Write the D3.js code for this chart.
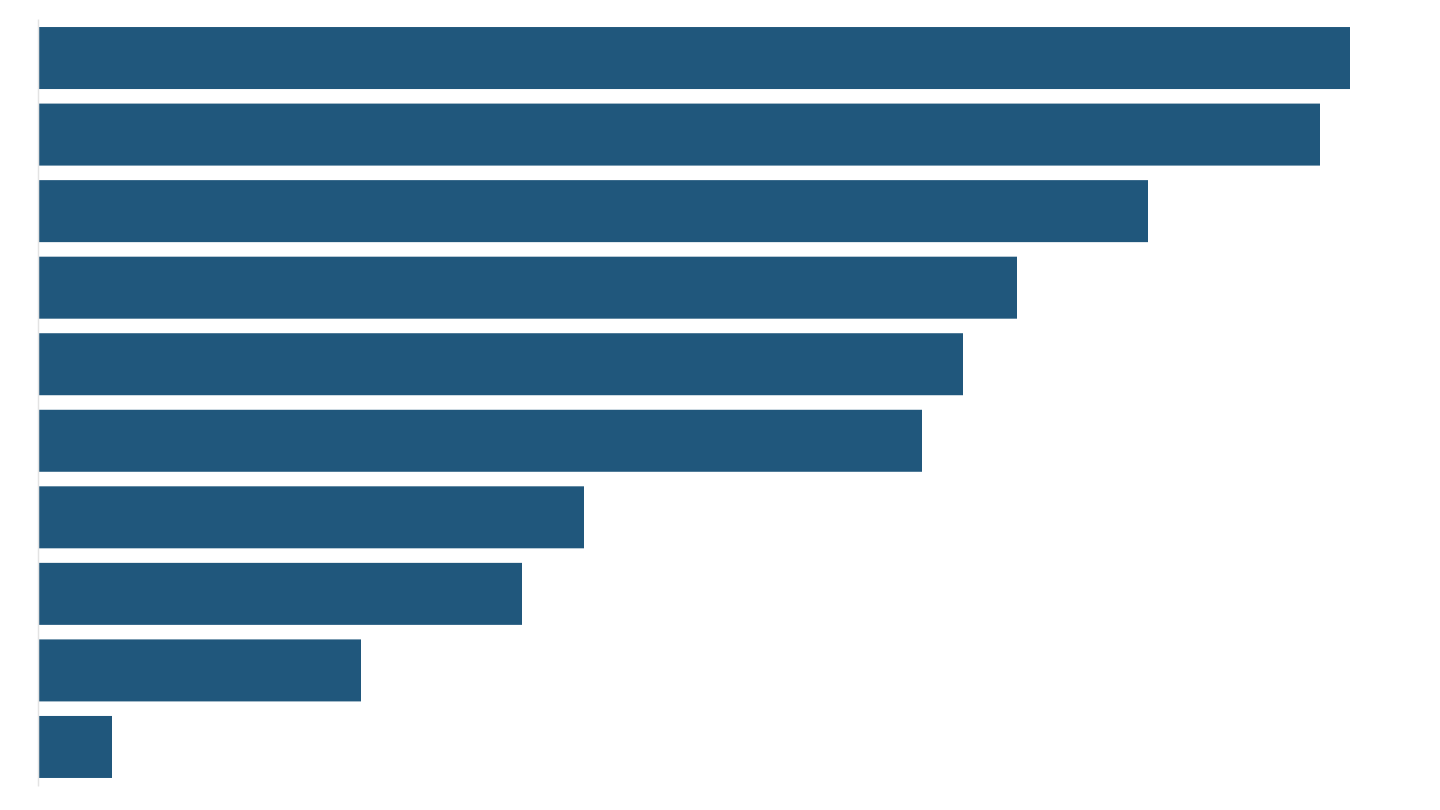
<!DOCTYPE html>
<html>
<head>
<meta charset="utf-8">
<script src="https://cdn.jsdelivr.net/npm/d3@7"></script>
<style>
    html, body { margin: 0; padding: 0; background: #fff; }
    svg { display: block; }
</style>
</head>
<body>
<div class="chart"></div>
<script>
// categories (no labels shown in the picture)
var categories = ['A', 'B', 'C', 'D', 'E', 'F', 'G', 'H', 'I', 'J'];
var values = [1312, 1282, 1110, 979, 925, 884, 546, 484, 323, 74];

var margin = {
    top: 19,
    right: 40,
    bottom: 24,
    left: 38
};
var width = 1440 - margin.left - margin.right;
var height = 810 - margin.top - margin.bottom;

var data = categories.map((c, i) => ({ name: c, value: values[i] }));

var svg = d3.select('.chart')
    .append('svg')
    .attr('width', width + margin.left + margin.right)
    .attr('height', height + margin.top + margin.bottom)
    .append('g')
    .attr('transform', 'translate(' + margin.left + ', ' + margin.top + ')');

const xScale = d3.scaleLinear()
    .domain([0, 1362])
    .range([0, width]);

const yScale = d3.scaleBand()
    .domain(categories)
    .range([0, height])
    .paddingInner(0.19)
    .paddingOuter(0.105);

svg.selectAll('rect')
    .data(data)
    .enter()
    .append('rect')
    .attr('x', xScale(0))
    .attr('y', d => yScale(d.name))
    .attr('width', d => xScale(d.value) - xScale(0))
    .attr('height', yScale.bandwidth())
    .attr('fill', '#20577c');

// thin left axis line, no ticks or labels
const yAxis = svg.append('g')
    .call(d3.axisLeft(yScale).tickSize(0).tickFormat(''));
yAxis.select('.domain')
    .attr('stroke', '#e3e3e3')
    .attr('stroke-width', 1.5);
</script>
</body>
</html>
